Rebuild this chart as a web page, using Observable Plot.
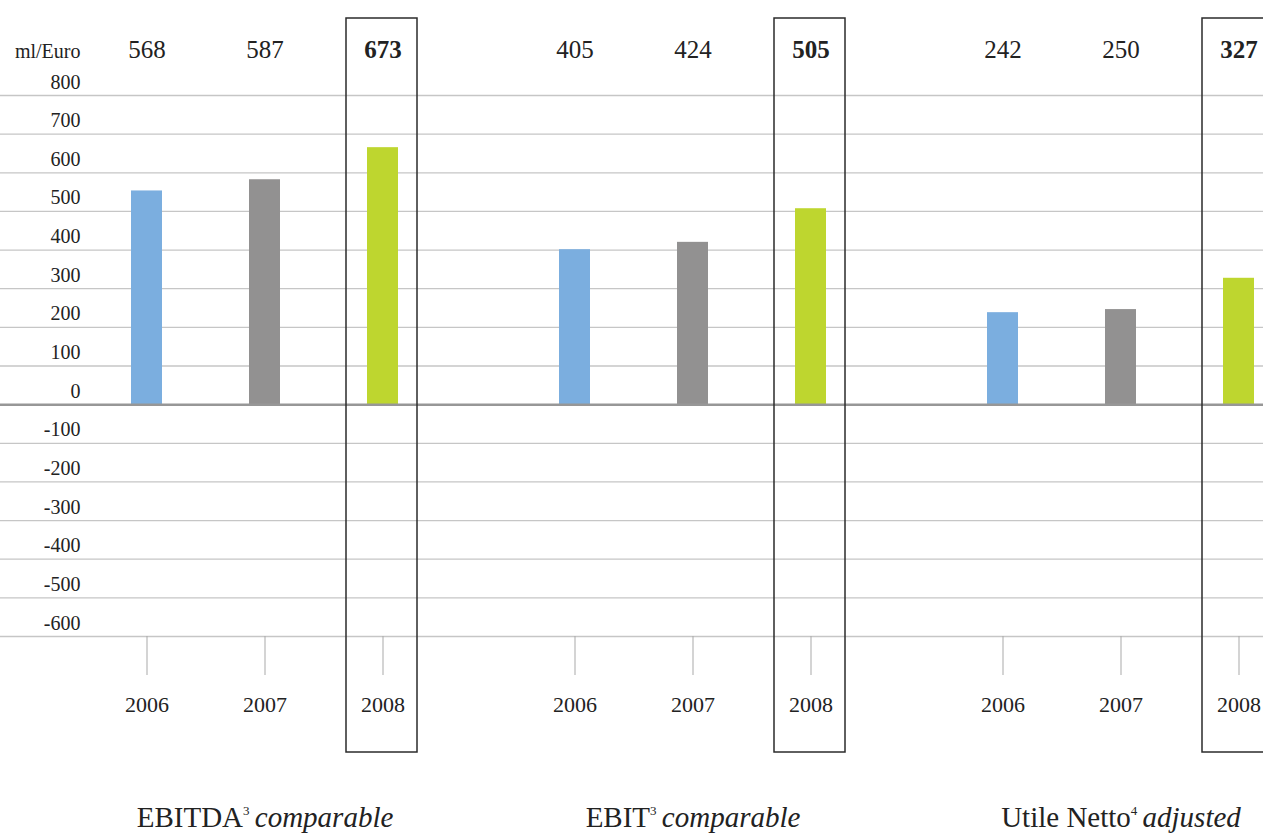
<!DOCTYPE html>
<html><head><meta charset="utf-8">
<script src="https://cdn.jsdelivr.net/npm/d3@7"></script>
<script src="https://cdn.jsdelivr.net/npm/@observablehq/plot@0.6"></script>
<style>html,body{margin:0;padding:0;background:#fff;overflow:hidden}#chart svg{display:block}</style>
</head><body><div id="chart"></div>
<script>
// ---- data ----
const groups = ["EBITDA", "EBIT", "Utile Netto"];
const groupSup = ["3", "3", "4"];
const groupItalic = ["comparable", "comparable", "adjusted"];
const years = ["2006", "2007", "2008"];
const labelValues = [[568, 587, 673], [405, 424, 505], [242, 250, 327]];
const barValues = [[553, 582, 665], [401, 420, 507], [238, 246, 327]];
const yearColors = ["#7baedf", "#929191", "#bed62f"];
const yTicks = [800, 700, 600, 500, 400, 300, 200, 100, 0, -100, -200, -300, -400, -500, -600];
const unitLabel = "ml/Euro";
const highlightYear = "2008";

// ---- layout helpers (slot units: one slot = distance between years) ----
const FONT = "'Liberation Serif', 'DejaVu Serif', serif";
const GROUP_STEP = 428 / 118;
const BAR_HALF = 15.5 / 118;
const BOX_HALF = 35.5 / 118;
const X0 = -146.5 / 118;
const X1 = X0 + 1263 / 118;
const supChars = {"3": "\u00B3", "4": "\u2074"};

const rows = [];
groups.forEach((g, gi) => years.forEach((y, yi) => rows.push({
  group: g, year: y, pos: gi * GROUP_STEP + yi,
  label: labelValues[gi][yi], bar: barValues[gi][yi]
})));
const groupRows = groups.map((g, gi) => ({
  main: g, sup: groupSup[gi], ital: groupItalic[gi], pos: gi * GROUP_STEP + 1,
  full: g + supChars[groupSup[gi]] + " " + groupItalic[gi]
}));
const posToYear = new Map(rows.map(r => [r.pos, r.year]));
const hl = rows.filter(r => r.year === highlightYear);
const nonHl = rows.filter(r => r.year !== highlightYear);

const chart = Plot.plot({
  width: 1263, height: 835,
  marginTop: 95, marginBottom: 199, marginLeft: 0, marginRight: 0,
  style: {fontFamily: FONT, color: "#222", background: "#fff"},
  x: {domain: [X0, X1], axis: null},
  y: {domain: [-600, 800], axis: null},
  color: {domain: years, range: yearColors},
  marks: [
    Plot.ruleY(yTicks.filter(d => d !== 0), {stroke: "#c6c6c6", strokeWidth: 1.3}),
    Plot.rectY(rows, {x1: d => d.pos - BAR_HALF, x2: d => d.pos + BAR_HALF, y1: 0, y2: "bar", fill: "year"}),
    Plot.ruleY([0], {stroke: "#979797", strokeWidth: 2.5}),
    Plot.rect(hl, {x1: d => d.pos - BOX_HALF - 1 / 118, x2: d => d.pos + BOX_HALF - 1 / 118, fill: "none", stroke: "#2b2b2b", strokeWidth: 1.5, insetTop: -77, insetBottom: -116}),
    Plot.text(yTicks, {y: d => d, text: d => String(d), frameAnchor: "left", dx: 80, dy: -7, textAnchor: "end", lineAnchor: "bottom", fontSize: 20, fontFamily: FONT, fill: "#222"}),
    Plot.text([unitLabel], {text: d => d, frameAnchor: "top-left", dx: 80, dy: -38, textAnchor: "end", lineAnchor: "bottom", fontSize: 20, fontFamily: FONT, fill: "#222"}),
    Plot.text(nonHl, {x: "pos", text: d => String(d.label), frameAnchor: "top", dy: -38, lineAnchor: "bottom", fontSize: 25, fontFamily: FONT, fill: "#222"}),
    Plot.text(hl, {x: "pos", text: d => String(d.label), frameAnchor: "top", dy: -38, lineAnchor: "bottom", fontSize: 25, fontWeight: "bold", fontFamily: FONT, fill: "#222"}),
    Plot.axisX(rows.map(r => r.pos), {anchor: "bottom", tickSize: 39, tickPadding: 21, tickFormat: p => posToYear.get(p), fontSize: 22, fontFamily: FONT, stroke: "#a9a9a9", fill: "#222", label: null}),
    Plot.text(groupRows, {x: "pos", text: "full", frameAnchor: "bottom", dy: 190, lineAnchor: "bottom", fontSize: 29, fontFamily: FONT, fill: "#222"})
  ]
});
document.getElementById("chart").appendChild(chart);

// render the category titles with roman, superscript and italic parts
const byFull = new Map(groupRows.map(g => [g.full, g]));
chart.querySelectorAll("text").forEach(t => {
  const g = byFull.get(t.textContent);
  if (!g) return;
  t.textContent = "";
  const ns = "http://www.w3.org/2000/svg";
  const a = document.createElementNS(ns, "tspan"); a.textContent = g.main;
  const b = document.createElementNS(ns, "tspan"); b.textContent = g.sup;
  b.setAttribute("font-size", "13"); b.setAttribute("dy", "-12");
  const c = document.createElementNS(ns, "tspan"); c.textContent = " " + g.ital;
  c.setAttribute("font-style", "italic"); c.setAttribute("dy", "12"); c.setAttribute("dx", "-2");
  t.append(a, b, c);
});
</script>
</body></html>
